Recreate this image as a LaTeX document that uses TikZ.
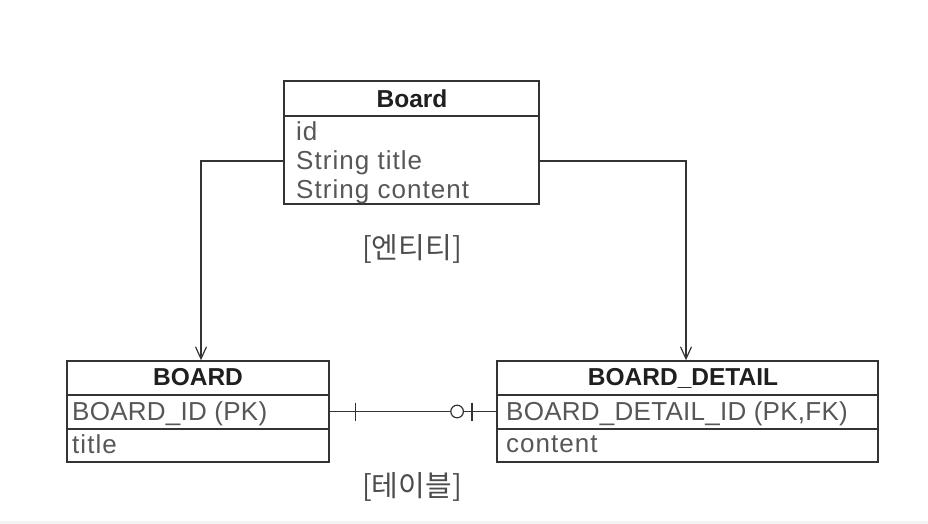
\documentclass[tikz,border=0pt]{standalone}
\usepackage{fontspec}
\setmainfont{Liberation Sans}
\newfontfamily\krfont{Noto Sans CJK KR}
\newfontfamily\lowrowfont[LetterSpace=4]{Liberation Sans}
\newfontfamily\caprowfont[LetterSpace=1]{Liberation Sans}
\usetikzlibrary{arrows.meta,shadows}
\begin{document}
\begin{tikzpicture}[x=1pt,y=-1pt,
  box/.style={draw=black!80, line width=1.6pt, fill=white, inner sep=0pt,
    drop shadow={shadow xshift=1.3pt,shadow yshift=-1.3pt,opacity=0.35,fill=black}},
  divl/.style={draw=black!80, line width=1.4pt},
  row/.style={anchor=base west, inner sep=0pt, text=black!66, font=\lowrowfont\fontsize{26}{30}\selectfont},
  caprow/.style={row, font=\caprowfont\fontsize{26}{30}\selectfont},
  hdr/.style={anchor=base, inner sep=0pt, text=black!88, font=\bfseries\fontsize{24.5}{28}\selectfont},
  lbl/.style={inner sep=0pt, text=black!70, font=\krfont\fontsize{29}{32}\selectfont},
  arr/.style={draw=black!80, line width=1.2pt, -{Straight Barb[length=12pt,width=11pt,line width=1.2pt]}},
  rel/.style={draw=black!80, line width=1.2pt}]
\useasboundingbox (0,0) rectangle (928,524);
\fill[black!5] (0,521) rectangle (928,524);

% entity
\node[box, minimum width=255pt, minimum height=123pt] (ent) at (411.5,142.5) {};
\draw[divl] (ent.west |- 0,116) -- (ent.east |- 0,116);
\node[hdr] (entH) at (412,107) {Board};
\node[row] (entR1) at (296,140) {id};
\node[row] (entR2) at (296,169) {String title};
\node[row] (entR3) at (296,198) {String content};
\node[lbl] (lab1) at (412,249) {[엔티티]};

% tables
\node[box, minimum width=262pt, minimum height=101pt] (tb1) at (198,411.5) {};
\draw[divl] (tb1.west |- 0,395) -- (tb1.east |- 0,395);
\draw[divl] (tb1.west |- 0,429) -- (tb1.east |- 0,429);
\node[hdr] (tb1H) at (198,385) {BOARD};
\node[caprow] (tb1R1) at (72,420) {BOARD\_ID (PK)};
\node[row] (tb1R2) at (72,453) {title};

\node[box, minimum width=381pt, minimum height=101pt] (tb2) at (687.5,411.5) {};
\draw[divl] (tb2.west |- 0,395) -- (tb2.east |- 0,395);
\draw[divl] (tb2.west |- 0,429) -- (tb2.east |- 0,429);
\node[hdr] (tb2H) at (683,385) {BOARD\_DETAIL};
\node[caprow] (tb2R1) at (506,420) {BOARD\_DETAIL\_ID (PK,FK)};
\node[row] (tb2R2) at (506,452) {content};
\node[lbl] (lab2) at (412,487) {[테이블]};

% connectors
\draw[arr] ([yshift=-18.5pt]ent.west) -| ([xshift=3pt]tb1.north);
\draw[arr] ([yshift=-18.5pt]ent.east) -| ([xshift=-1.5pt]tb2.north);

\draw[rel] (tb1.east) -- coordinate[pos=0.155] (barA) coordinate[pos=0.765] (circB) coordinate[pos=0.854] (barB) (tb2.west);
\draw[rel] ([yshift=9pt]barA) -- ([yshift=-9pt]barA);
\draw[rel] ([yshift=9pt]barB) -- ([yshift=-9pt]barB);
\draw[rel, fill=white] (circB) circle[radius=6.3pt];
\end{tikzpicture}
\end{document}
